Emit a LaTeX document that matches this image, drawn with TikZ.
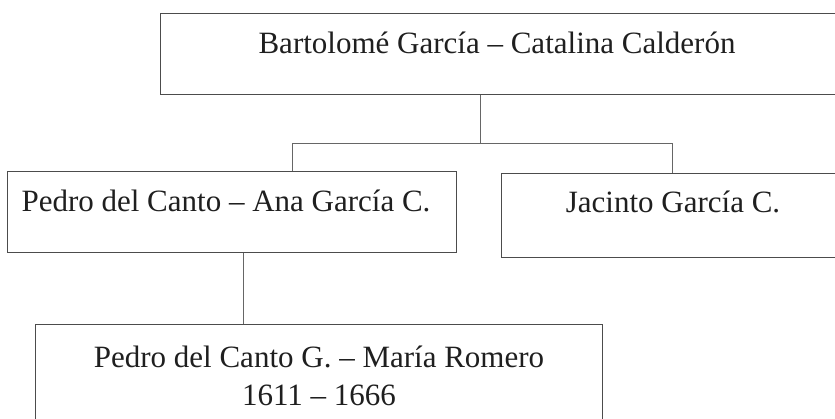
\documentclass[tikz,border=0pt]{standalone}
\usepackage{fontspec}
\setmainfont{Liberation Serif}
\begin{document}
\begin{tikzpicture}[x=1pt,y=-1pt,
  boxline/.style={draw=black!70, line width=1.1pt},
  conn/.style={draw=black!60, line width=0.8pt},
  lbl/.style={inner sep=0pt, font=\fontsize{31}{38}\selectfont, text=black!88},
  famrect/.style={boxline, inner sep=0pt, anchor=north west}]
\useasboundingbox (0,0) rectangle (835,419);
\clip (0,0) rectangle (835,419);
\fill[white] (0,0) rectangle (835,419);
% boxes
\node[famrect, minimum width=685pt, minimum height=81pt] (tp) at (160,13) {};
\node[famrect, minimum width=449pt, minimum height=81pt] (pl) at (7,171) {};
\node[famrect, minimum width=344pt, minimum height=84pt] (pr) at (501,173) {};
\node[famrect, minimum width=567pt, minimum height=116pt] (bt) at (35,324) {};
% texts
\node[lbl, anchor=base] (ttp) at (497,54) {Bartolomé García – Catalina Calderón};
\node[lbl, anchor=base] (tpl) at (226,212) {Pedro del Canto – Ana García C.};
\node[lbl, anchor=base] (tpr) at (673,213) {Jacinto García C.};
\node[lbl, anchor=base, align=center] (tbt) at (319,405) {Pedro del Canto G. – María Romero\\1611 – 1666};
% connectors
\coordinate (jn) at (480,143);
\coordinate (xl) at (292,0);
\coordinate (xr) at (672,0);
\coordinate (xb) at (243,0);
\draw[conn] (tp.south -| jn) -- (jn);
\draw[conn] (pl.north -| xl) -- (jn -| xl) -- (jn -| xr) -- (pr.north -| xr);
\draw[conn] (pl.south -| xb) -- (bt.north -| xb);
\end{tikzpicture}
\end{document}
